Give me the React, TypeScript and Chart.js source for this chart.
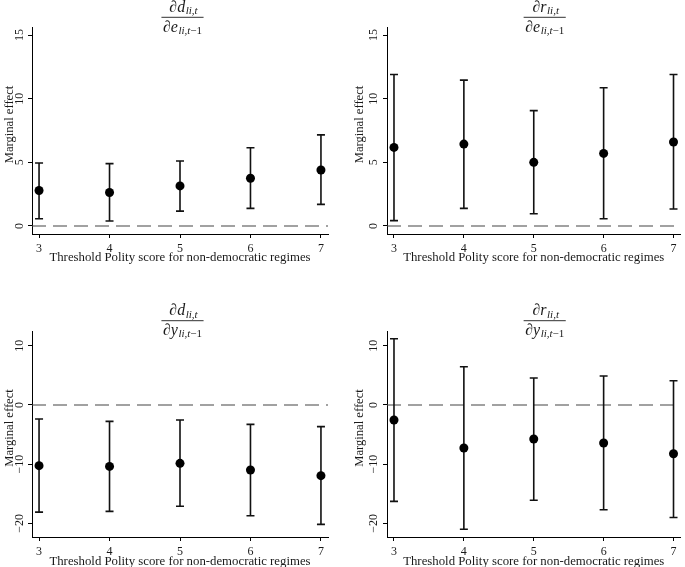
import React, { useEffect, useRef } from "react";
import { Chart, registerables } from "chart.js";

Chart.register(...registerables);

// ---------- data ----------
const thresholds = [3, 4, 5, 6, 7];
const xTickLabels = ["3", "4", "5", "6", "7"];
const xAxisTitle = "Threshold Polity score for non-democratic regimes";
const yAxisTitle = "Marginal effect";

const topYTicks = [0, 5, 10, 15];
const topYTickLabels = ["0", "5", "10", "15"];
const bottomYTicks = [-20, -10, 0, 10];
const bottomYTickLabels = ["\u221220", "\u221210", "0", "10"];

// d / e
const dEEstimate = [2.79, 2.63, 3.15, 3.75, 4.4];
const dELower = [0.57, 0.39, 1.17, 1.38, 1.7];
const dEUpper = [4.95, 4.9, 5.1, 6.15, 7.16];
// r / e
const rEEstimate = [6.17, 6.43, 5.0, 5.7, 6.6];
const rELower = [0.42, 1.38, 0.96, 0.57, 1.33];
const rEUpper = [11.9, 11.46, 9.06, 10.86, 11.9];
// d / y
const dYEstimate = [-10.25, -10.37, -9.86, -10.98, -11.94];
const dYLower = [-18.1, -17.97, -17.1, -18.7, -20.17];
const dYUpper = [-2.37, -2.77, -2.53, -3.27, -3.66];
// r / y
const rYEstimate = [-2.53, -7.26, -5.74, -6.42, -8.23];
const rYLower = [-16.28, -21.0, -16.1, -17.7, -19.0];
const rYUpper = [11.2, 6.47, 4.56, 4.9, 4.1];

// ---------- layout ----------
const SERIF = "'Liberation Serif', 'Times New Roman', serif";
const TEXT = "#1a1a1a";

type Panel = {
  left: number; top: number; width: number; height: number;
  area: { l: number; r: number; t: number; b: number };
  xMin: number; xMax: number; yMin: number; yMax: number;
  yTicks: number[]; yTickLabels: string[];
  est: number[]; lo: number[]; hi: number[];
  numVar: string; denVar: string;
  fracY: number; fracX: number;
  yTickOffset: number; yTitleOffset: number; xTitleY: number;
};

const panels: Panel[] = [
  {
    left: 0, top: 0, width: 342, height: 284,
    area: { l: 32, r: 328, t: 27, b: 234 },
    xMin: 2.9, xMax: 7.1, yMin: -0.63, yMax: 15.63,
    yTicks: topYTicks, yTickLabels: topYTickLabels,
    est: dEEstimate, lo: dELower, hi: dEUpper,
    numVar: "d", denVar: "e", fracY: 17.3, fracX: 182.5,
    yTickOffset: 12.5, yTitleOffset: 22, xTitleY: 258,
  },
  {
    left: 342, top: 0, width: 343, height: 284,
    area: { l: 45, r: 341, t: 27, b: 234 },
    xMin: 2.9, xMax: 7.1, yMin: -0.63, yMax: 15.63,
    yTicks: topYTicks, yTickLabels: topYTickLabels,
    est: rEEstimate, lo: rELower, hi: rEUpper,
    numVar: "r", denVar: "e", fracY: 17.3, fracX: 202.7,
    yTickOffset: 13.5, yTitleOffset: 27, xTitleY: 258,
  },
  {
    left: 0, top: 284, width: 342, height: 283,
    area: { l: 32, r: 328, t: 47, b: 253 },
    xMin: 2.9, xMax: 7.1, yMin: -22.3, yMax: 12.5,
    yTicks: bottomYTicks, yTickLabels: bottomYTickLabels,
    est: dYEstimate, lo: dYLower, hi: dYUpper,
    numVar: "d", denVar: "y", fracY: 36.7, fracX: 182.5,
    yTickOffset: 12.5, yTitleOffset: 22, xTitleY: 277.5,
  },
  {
    left: 342, top: 284, width: 343, height: 283,
    area: { l: 45, r: 341, t: 47, b: 253 },
    xMin: 2.9, xMax: 7.1, yMin: -22.3, yMax: 12.5,
    yTicks: bottomYTicks, yTickLabels: bottomYTickLabels,
    est: rYEstimate, lo: rYLower, hi: rYUpper,
    numVar: "r", denVar: "y", fracY: 36.7, fracX: 202.7,
    yTickOffset: 13.5, yTitleOffset: 27, xTitleY: 277.5,
  },
];

type Piece = { t: string; size: number; italic: boolean; dy: number; gap?: number };

function piecesWidth(ctx: CanvasRenderingContext2D, pieces: Piece[]) {
  let w = 0;
  for (const p of pieces) {
    ctx.font = `${p.italic ? "italic " : ""}${p.size}px ${SERIF}`;
    w += ctx.measureText(p.t).width + (p.gap || 0);
  }
  return w;
}
function drawPieces(ctx: CanvasRenderingContext2D, pieces: Piece[], x: number, base: number) {
  for (const p of pieces) {
    ctx.font = `${p.italic ? "italic " : ""}${p.size}px ${SERIF}`;
    ctx.fillText(p.t, x, base + p.dy);
    x += ctx.measureText(p.t).width + (p.gap || 0);
  }
}

function makePlugin(p: Panel) {
  return {
    id: "panelDecor",
    beforeDatasetsDraw(chart: any) {
      const ctx: CanvasRenderingContext2D = chart.ctx;
      const xs = chart.scales.x;
      const ys = chart.scales.y;
      const ca = chart.chartArea;
      // zero reference line
      ctx.save();
      ctx.strokeStyle = "#444444";
      ctx.lineWidth = 1.2;
      ctx.setLineDash([14, 7]);
      const y0 = ys.getPixelForValue(0);
      ctx.beginPath();
      ctx.moveTo(ca.left, y0);
      ctx.lineTo(ca.right, y0);
      ctx.stroke();
      ctx.restore();
      // error bars
      ctx.save();
      ctx.strokeStyle = "#111111";
      ctx.lineWidth = 1.6;
      thresholds.forEach((t, i) => {
        const x = xs.getPixelForValue(t);
        const yl = ys.getPixelForValue(p.lo[i]);
        const yh = ys.getPixelForValue(p.hi[i]);
        ctx.beginPath();
        ctx.moveTo(x, yl);
        ctx.lineTo(x, yh);
        ctx.moveTo(x - 4, yl);
        ctx.lineTo(x + 4, yl);
        ctx.moveTo(x - 4, yh);
        ctx.lineTo(x + 4, yh);
        ctx.stroke();
      });
      ctx.restore();
    },
    afterDraw(chart: any) {
      const ctx: CanvasRenderingContext2D = chart.ctx;
      const ys = chart.scales.y;
      const ca = chart.chartArea;
      ctx.save();
      ctx.fillStyle = TEXT;
      // y tick labels (rotated)
      ctx.font = `12px ${SERIF}`;
      ctx.textAlign = "center";
      ctx.textBaseline = "middle";
      p.yTicks.forEach((v, i) => {
        const y = ys.getPixelForValue(v);
        ctx.save();
        ctx.translate(ca.left - p.yTickOffset, y);
        ctx.rotate(-Math.PI / 2);
        ctx.fillText(p.yTickLabels[i], 0, 0);
        ctx.restore();
      });
      // y title
      ctx.font = `12.6px ${SERIF}`;
      ctx.save();
      ctx.translate(ca.left - p.yTitleOffset, (ca.top + ca.bottom) / 2 - 6);
      ctx.rotate(-Math.PI / 2);
      ctx.fillText(yAxisTitle, 0, 0);
      ctx.restore();
      // x title
      ctx.font = `12.8px ${SERIF}`;
      ctx.fillText(xAxisTitle, (ca.left + ca.right) / 2, p.xTitleY);
      // fraction title
      ctx.textAlign = "left";
      ctx.textBaseline = "alphabetic";
      const num: Piece[] = [
        { t: "\u2202", size: 16, italic: true, dy: 0 },
        { t: p.numVar, size: 16, italic: true, dy: 0, gap: 0.5 },
        { t: "li,t", size: 11, italic: true, dy: 2.5 },
      ];
      const den: Piece[] = [
        { t: "\u2202", size: 16, italic: true, dy: 0 },
        { t: p.denVar, size: 16, italic: true, dy: 0, gap: 0.5 },
        { t: "li,t", size: 11, italic: true, dy: 2.5 },
        { t: "\u22121", size: 11, italic: false, dy: 2.5 },
      ];
      const wn = piecesWidth(ctx, num);
      const wd = piecesWidth(ctx, den);
      const w = Math.max(wn, wd) + 3;
      drawPieces(ctx, num, p.fracX - wn / 2 + 1, p.fracY - 5.6);
      drawPieces(ctx, den, p.fracX - wd / 2, p.fracY + 14.2);
      ctx.strokeStyle = TEXT;
      ctx.lineWidth = 0.9;
      ctx.beginPath();
      ctx.moveTo(p.fracX - w / 2, p.fracY);
      ctx.lineTo(p.fracX + w / 2, p.fracY);
      ctx.stroke();
      ctx.restore();
    },
  };
}

function PanelChart({ p }: { p: Panel }) {
  const ref = useRef<HTMLCanvasElement | null>(null);
  useEffect(() => {
    if (!ref.current) return;
    const chart = new Chart(ref.current, {
      type: "scatter",
      data: {
        datasets: [
          {
            data: thresholds.map((t, i) => ({ x: t, y: p.est[i] })),
            backgroundColor: "#000000",
            borderColor: "#000000",
            pointRadius: 4.5,
            pointHoverRadius: 4.5,
            borderWidth: 0,
          },
        ],
      },
      options: {
        responsive: false,
        animation: false,
        events: [],
        layout: {
          padding: { left: 0, top: p.area.t, right: p.width - p.area.r, bottom: 0 },
        },
        plugins: { legend: { display: false }, tooltip: { enabled: false }, title: { display: false } },
        scales: {
          x: {
            type: "linear",
            min: p.xMin,
            max: p.xMax,
            afterBuildTicks: (s: any) => {
              s.ticks = thresholds.map((v) => ({ value: v }));
            },
            afterFit: (s: any) => {
              s.height = p.height - p.area.b;
            },
            ticks: {
              callback: (_v: any, i: number) => xTickLabels[i],
              color: TEXT,
              font: { family: SERIF, size: 12 },
              padding: 4,
              maxRotation: 0,
              minRotation: 0,
            },
            grid: { display: true, drawOnChartArea: false, drawTicks: true, tickLength: 4, color: "#000000", lineWidth: 1 },
            border: { display: true, color: "#000000", width: 1 },
          },
          y: {
            type: "linear",
            min: p.yMin,
            max: p.yMax,
            afterBuildTicks: (s: any) => {
              s.ticks = p.yTicks.map((v) => ({ value: v }));
            },
            afterFit: (s: any) => {
              s.width = p.area.l;
            },
            ticks: { display: false },
            grid: { display: true, drawOnChartArea: false, drawTicks: true, tickLength: 4, color: "#000000", lineWidth: 1 },
            border: { display: true, color: "#000000", width: 1 },
          },
        },
      },
      plugins: [makePlugin(p)],
    } as any);
    return () => chart.destroy();
  }, [p]);
  return (
    <canvas
      ref={ref}
      width={p.width}
      height={p.height}
      style={{ position: "absolute", left: p.left, top: p.top, width: p.width, height: p.height }}
    />
  );
}

export default function App() {
  return (
    <div style={{ position: "absolute", left: 0, top: 0, width: 685, height: 567, background: "#ffffff", overflow: "hidden" }}>
      {panels.map((p, i) => (
        <PanelChart key={i} p={p} />
      ))}
    </div>
  );
}
